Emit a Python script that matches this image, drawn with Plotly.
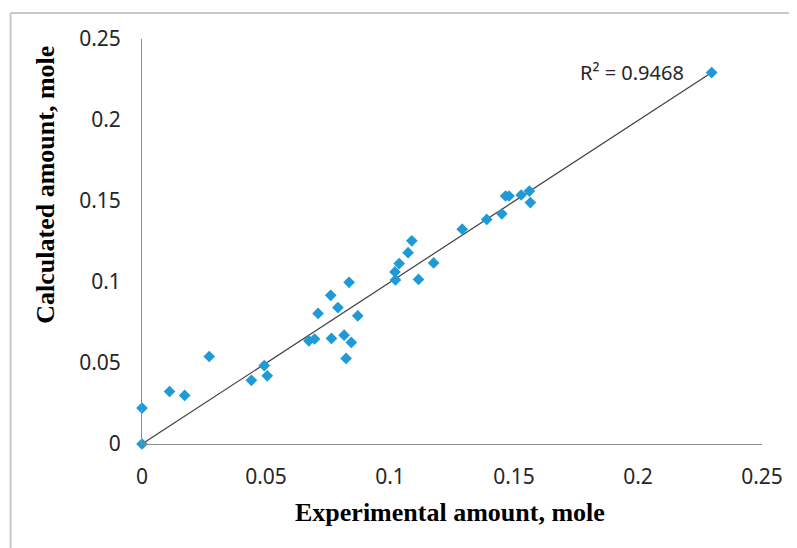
import numpy as np
import plotly.graph_objects as go

experimental = [0.0, 0.0, 0.0111, 0.0172, 0.0271, 0.0441, 0.0493, 0.0505, 0.0673, 0.0696,
                0.0710, 0.0764, 0.0761, 0.0790, 0.0815, 0.0823, 0.0835, 0.0844, 0.0870,
                0.1022, 0.1020, 0.1037, 0.1073, 0.1088, 0.1115, 0.1176, 0.1291, 0.1390,
                0.1451, 0.1466, 0.1480, 0.1529, 0.1562, 0.1566, 0.2297]
calculated = [0.0, 0.0222, 0.0324, 0.0300, 0.0540, 0.0393, 0.0484, 0.0421, 0.0637, 0.0648,
              0.0806, 0.0652, 0.0918, 0.0842, 0.0672, 0.0528, 0.0998, 0.0627, 0.0791,
              0.1013, 0.1062, 0.1114, 0.1181, 0.1254, 0.1016, 0.1118, 0.1326, 0.1386,
              0.1421, 0.1531, 0.1531, 0.1537, 0.1561, 0.1490, 0.2293]
tick_vals = [0, 0.05, 0.1, 0.15, 0.2, 0.25]
tick_text = ["0", "0.05", "0.1", "0.15", "0.2", "0.25"]
r2_label = "R² = 0.9468"
x_title = "Experimental amount, mole"
y_title = "Calculated amount, mole"

x = np.array(experimental)
y = np.array(calculated)
# linear trendline through the origin
slope = float(np.sum(x * y) / np.sum(x * x))
trend_x = np.array([x.min(), x.max()])
trend_y = slope * trend_x

fig = go.Figure()
fig.add_trace(go.Scatter(x=trend_x, y=trend_y, mode="lines",
                         line=dict(color="#404040", width=1.2),
                         hoverinfo="skip", showlegend=False, cliponaxis=False))
fig.add_trace(go.Scatter(x=experimental, y=calculated, mode="markers",
                         marker=dict(symbol="diamond", size=9, color="#1f9ad6"),
                         showlegend=False, cliponaxis=False))

tick_font = dict(family="Noto Sans, Open Sans, sans-serif", size=21, color="#262626")
axis_common = dict(range=[0, 0.25], tickvals=tick_vals, ticktext=tick_text,
                   showgrid=False, zeroline=False, showline=True,
                   linecolor="#8c8c8c", linewidth=1, ticks="", tickfont=tick_font)
fig.update_xaxes(**axis_common, ticklabelstandoff=14)
fig.update_yaxes(**axis_common, ticklabelstandoff=16)

title_font = dict(family="Liberation Serif, Times New Roman, serif", size=26, color="#000000")
fig.add_annotation(text="<b>" + x_title + "</b>", xref="paper", yref="paper",
                   x=0.497, y=-0.168, yanchor="middle", xanchor="center",
                   showarrow=False, font=title_font)
fig.add_annotation(text="<b>" + y_title + "</b>", xref="paper", yref="paper",
                   x=-0.155, y=0.64, xanchor="center", yanchor="middle",
                   textangle=-90, showarrow=False, font=title_font)
fig.add_annotation(text=r2_label, xref="x", yref="y", x=0.2195, y=0.2292,
                   xanchor="right", yanchor="middle", showarrow=False,
                   font=dict(family="Noto Sans, Open Sans, sans-serif", size=20, color="#262626"))

# light outer frame
fig.add_shape(type="line", xref="paper", yref="paper", x0=-0.212, x1=1.2, y0=1.064, y1=1.064,
              line=dict(color="#c8c8c8", width=2))
fig.add_shape(type="line", xref="paper", yref="paper", x0=-0.212, x1=-0.212, y0=-0.4, y1=1.064,
              line=dict(color="#c8c8c8", width=2))

fig.update_layout(width=797, height=548, margin=dict(l=134, r=43, t=31, b=112),
                  paper_bgcolor="white", plot_bgcolor="white")

fig.write_html("out.html")
